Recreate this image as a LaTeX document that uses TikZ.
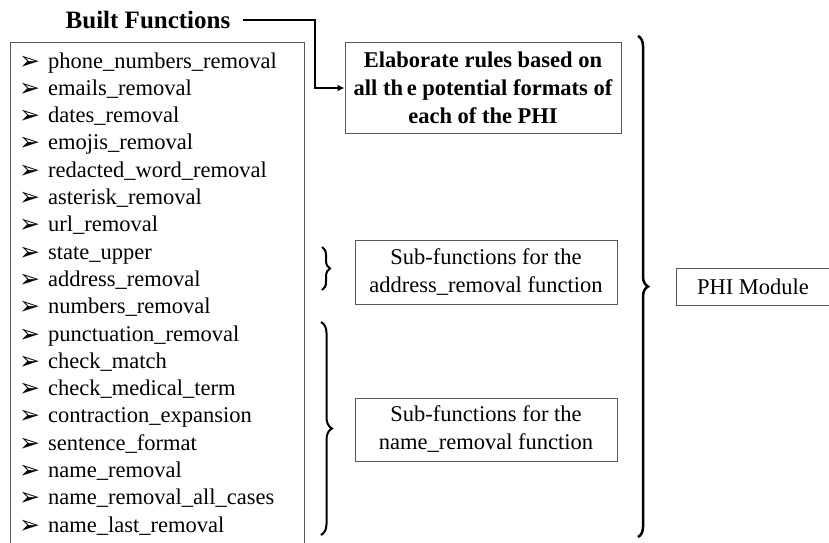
\documentclass[tikz,border=0pt]{standalone}
\usepackage{fontspec}
\setmainfont{Liberation Serif}
\newfontfamily\symfont{DejaVu Sans}
\usetikzlibrary{decorations.pathreplacing,arrows.meta}
\tikzset{
  box/.style={draw=black!65, line width=1pt, rectangle, inner sep=0pt, align=center},
  itemtext/.style={anchor=base west, inner sep=0pt, font=\fontsize{22.5}{27}\selectfont},
  bullet/.style={anchor=base west, inner sep=0pt, font=\symfont\fontsize{25}{30}\selectfont},
  bracestyle/.style={draw=black, line width=2pt, decorate, decoration={brace, amplitude=#1}},
  conn/.style={draw=black, line width=2.5pt, -{Latex[length=7pt,width=7pt]}}
}
\begin{document}
\begin{tikzpicture}[x=1pt,y=-1pt]
\useasboundingbox (0,0) rectangle (829,542);
\clip (0,0) rectangle (829,542);
% title
\node[anchor=center, inner sep=0pt, font=\bfseries\fontsize{25}{30}\selectfont] (title) at (148,20) {Built Functions};
% left box
\node[box, minimum width=294pt, minimum height=540pt, anchor=north west] (leftbox) at (10,42) {};
% items
\foreach \t [count=\i] in {phone\_numbers\_removal, emails\_removal, dates\_removal, emojis\_removal, redacted\_word\_removal, asterisk\_removal, url\_removal, state\_upper, address\_removal, numbers\_removal, punctuation\_removal, check\_match, check\_medical\_term, contraction\_expansion, sentence\_format, name\_removal, name\_removal\_all\_cases, name\_last\_removal} {
  \pgfmathsetmacro{\yy}{68+(\i-1)*27.3}
  \node[bullet] (b\i) at (19,\yy+1) {➢};
  \node[itemtext] (i\i) at (48,\yy) {\t};
}
% rules box
\node[box, minimum width=276pt, minimum height=91pt, font=\bfseries\fontsize{22.5}{28}\selectfont] (rules) at (483,87.5) {Elaborate rules based on\\all th\,e potential formats of\\each of the PHI};
% sub boxes
\node[box, minimum width=262pt, minimum height=64pt, font=\fontsize{22.5}{28}\selectfont] (sub1) at (486,272) {Sub-functions for the\\address\_removal function};
\node[box, minimum width=262pt, minimum height=63pt, font=\fontsize{22.5}{28}\selectfont] (sub2) at (486,429.5) {Sub-functions for the\\name\_removal function};
% PHI module
\node[box, minimum width=154pt, minimum height=37pt, font=\fontsize{22.5}{27}\selectfont] (phi) at (753,286.5) {PHI Module};
% connector
\coordinate (bend1) at (315,20);
\coordinate (bend2) at (315,88);
\draw[conn] ([xshift=12pt]title.east) -- (bend1) -- (bend2) -- (rules.west |- bend2);
% braces
\coordinate (s1) at (322,247);
\coordinate (s2) at (322,290);
\draw[bracestyle=8pt] (s1) -- (s2);
\coordinate (m1) at (321,322);
\coordinate (m2) at (321,535);
\draw[bracestyle=11pt] (m1) -- (m2);
\coordinate (g1) at (638,36);
\coordinate (g2) at (638,537);
\draw[bracestyle=10pt, line width=2.5pt] (g1) -- (g2);
\end{tikzpicture}
\end{document}
